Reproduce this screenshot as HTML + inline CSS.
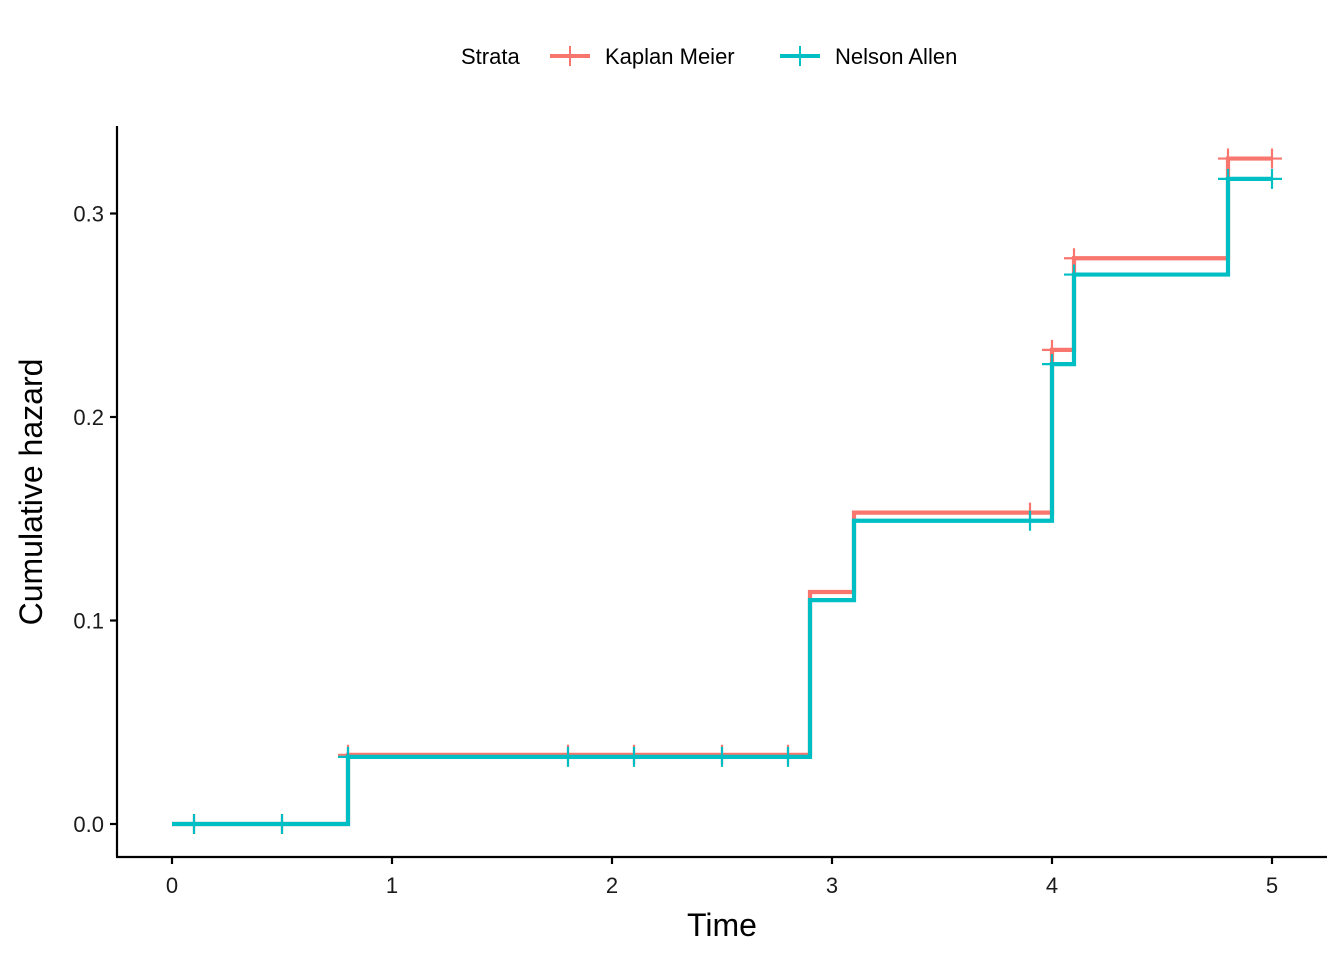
<!DOCTYPE html>
<html><head><meta charset="utf-8"><style>
body{margin:0;background:#fff;}
svg text{font-family:"Liberation Sans",Arial,sans-serif;}
</style></head><body>
<svg id="chart" width="1344" height="960" xmlns="http://www.w3.org/2000/svg">
<g id="legend">
<text x="461" y="64" font-size="22" fill="#000">Strata</text>
<g>
<line x1="550" y1="56" x2="590" y2="56" stroke="#F8766D" stroke-width="4"/>
<line x1="570" y1="46" x2="570" y2="66" stroke="#F8766D" stroke-width="2"/>
<text x="605" y="64" font-size="22" fill="#000">Kaplan Meier</text></g>
<g>
<line x1="780" y1="56" x2="820" y2="56" stroke="#00BFC4" stroke-width="4"/>
<line x1="800" y1="46" x2="800" y2="66" stroke="#00BFC4" stroke-width="2"/>
<text x="835" y="64" font-size="22" fill="#000">Nelson Allen</text></g>
</g>
<g id="axes"></g>
<g id="series"></g>
<text x="722" y="936" font-size="32" text-anchor="middle" fill="#000">Time</text>
<text transform="translate(42,492) rotate(-90)" font-size="32" text-anchor="middle" fill="#000">Cumulative hazard</text>
</svg>
<script>
const xTicks=[0,1,2,3,4,5];
const yTicks=[0.0,0.1,0.2,0.3];
const yTickLabels=["0.0","0.1","0.2","0.3"];
const stepTimes=[0,0.8,2.9,3.1,4.0,4.1,4.8];
const kmValues=[0,0.034,0.114,0.153,0.233,0.278,0.327];
const naValues=[0,0.033,0.110,0.149,0.226,0.270,0.317];
const censorTimes=[0.1,0.5,0.8,1.8,2.1,2.5,2.8,3.9,4.0,4.1,4.8,5.0];
const endTime=5.0;
const X=t=>172+t*220;
const Y=v=>824-v*2035;
const NS="http://www.w3.org/2000/svg";
function mk(tag,attrs,parent){const e=document.createElementNS(NS,tag);for(const k in attrs)e.setAttribute(k,attrs[k]);parent.appendChild(e);return e;}
const ax=document.getElementById('axes');
let l=mk('line',{x1:117,y1:126,x2:117,y2:857,stroke:'#000','stroke-width':2.2},ax);


l=mk('line',{x1:116,y1:857,x2:1327,y2:857,stroke:'#000','stroke-width':2.2},ax);


xTicks.forEach(t=>{
 mk('line',{x1:X(t),y1:857,x2:X(t),y2:864,stroke:'#000','stroke-width':2.2},ax);
 const tx=mk('text',{x:X(t),y:893,'font-size':22,'text-anchor':'middle',fill:'#1a1a1a'},ax);
 tx.textContent=String(t);
 
 
});
yTicks.forEach((v,i)=>{
 mk('line',{x1:110,y1:Y(v),x2:117,y2:Y(v),stroke:'#000','stroke-width':2.2},ax);
 const tx=mk('text',{x:104,y:Y(v)+8,'font-size':22,'text-anchor':'end',fill:'#1a1a1a'},ax);
 tx.textContent=yTickLabels[i];
 
 
});
const sg=document.getElementById('series');
function valAt(vals,t){let v=vals[0];for(let i=0;i<stepTimes.length;i++)if(stepTimes[i]<=t)v=vals[i];return v;}
function draw(vals,color,name){
 const g=mk('g',{},sg);
 
 
 let d='M'+X(stepTimes[0])+','+Y(vals[0]);
 for(let i=1;i<stepTimes.length;i++){d+=' H'+X(stepTimes[i])+' V'+Y(vals[i]);}
 d+=' H'+X(endTime);
 const p=mk('path',{d:d,fill:'none',stroke:color,'stroke-width':4.2},g);
 
 
 censorTimes.forEach(t=>{
  const y=Y(valAt(vals,t));
  const c=mk('path',{d:`M${X(t)},${y-10}V${y+10}M${X(t)-10},${y}H${X(t)+10}`,stroke:color,'stroke-width':2.2,fill:'none'},g);
  
  
 });
}
draw(kmValues,'#F8766D','kaplan-meier-series');
draw(naValues,'#00BFC4','nelson-allen-series');
</script>
</body></html>
